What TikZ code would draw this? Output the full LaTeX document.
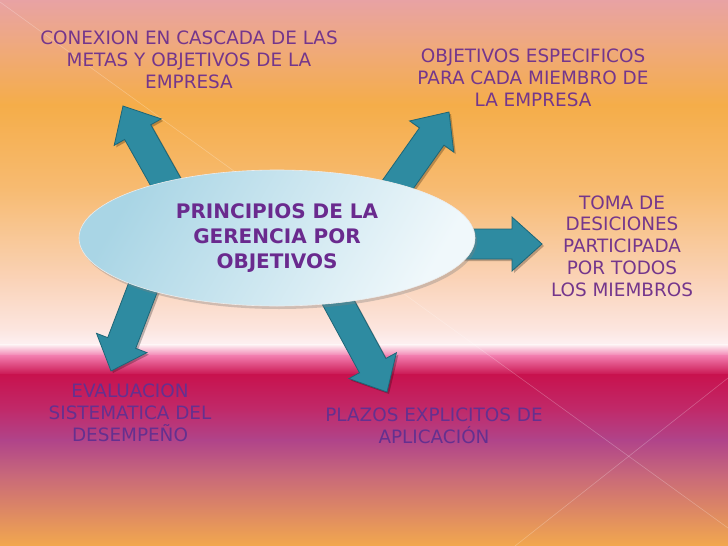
\documentclass[tikz,border=0pt]{standalone}
\usepackage{fontspec}
\setmainfont{DejaVu Sans}
\usepackage{tikz}
\usetikzlibrary{calc, positioning, shapes.geometric, shadows}
\definecolor{bgA}{HTML}{E8A2A4}
\definecolor{bgB}{HTML}{EFA97E}
\definecolor{bgC}{HTML}{F5AD49}
\definecolor{bgD}{HTML}{F7BB72}
\definecolor{bgE}{HTML}{FAD3B8}
\definecolor{bgF}{HTML}{FCE6E0}
\definecolor{bgG}{HTML}{FDF1F3}
\definecolor{bgH}{HTML}{F27CAE}
\definecolor{bgI}{HTML}{C8124E}
\definecolor{bgJ}{HTML}{C02A6A}
\definecolor{bgK}{HTML}{B0448A}
\definecolor{bgL}{HTML}{C8687A}
\definecolor{bgM}{HTML}{F2A84E}
\definecolor{arrowteal}{HTML}{2E8BA1}
\definecolor{arrowedge}{HTML}{1D6677}
\definecolor{ellblue}{HTML}{A9D5E5}
\definecolor{ellwhite}{HTML}{F0F8FB}
\definecolor{titlepurple}{HTML}{6A2A8E}
\definecolor{labelpurple}{HTML}{74368C}
\definecolor{lowpurple}{HTML}{65308F}
\newcommand{\arrowoutline}[2]{($(#1)!15pt!90:(#2)$) -- ($(ah)!15pt!90:(#2)$) -- ($(ah)!27pt!90:(#2)$) -- (#2) -- ($(ah)!27pt!-90:(#2)$) -- ($(ah)!15pt!-90:(#2)$) -- ($(#1)!15pt!-90:(#2)$) -- cycle}
\newcommand{\blockarrow}[2]{%
    \coordinate (ah) at ($(#2)!30pt!(#1)$);
    \fill[black,opacity=0.25,transform canvas={shift={(2pt,-2pt)}}] \arrowoutline{#1}{#2};
    \filldraw[arrowteal,draw=arrowedge,line width=0.8pt,line join=miter] \arrowoutline{#1}{#2};
}
\tikzset{
    label text/.style={text=labelpurple,align=center,font=\fontsize{18.4}{21.8}\selectfont},
    low text/.style={label text,text=lowpurple},
    core/.style={ellipse,minimum width=396pt,minimum height=136pt,inner sep=0pt,
        left color=ellblue,right color=ellwhite,shading angle=60,draw=white!85!gray,line width=0.6pt,
        drop shadow={opacity=0.35,shadow xshift=2pt,shadow yshift=-3pt},
        text=titlepurple,align=center,font=\fontsize{20}{25}\selectfont\bfseries}
}
\begin{document}
\begin{tikzpicture}[x=1pt,y=-1pt]
    \useasboundingbox (0,0) rectangle (728,546);
    \foreach \ya/\ca/\yb/\cb in {0/bgA/45/bgB, 45/bgB/105/bgC, 105/bgC/190/bgD, 190/bgD/280/bgE, 280/bgE/330/bgF, 330/bgF/345/bgG, 345/bgG/356/bgH, 356/bgH/375/bgI, 375/bgI/410/bgJ, 410/bgJ/440/bgK, 440/bgK/475/bgL, 475/bgL/546/bgM}
        \shade[top color=\ca,bottom color=\cb] (0,\ya-0.4) rectangle (728,\yb+0.4);
    \draw[white,opacity=0.25,line width=0.6pt] (0,2) -- (728,528);
    \draw[white,opacity=0.25,line width=0.6pt] (728,378) -- (515,546);

    \coordinate (center) at (277,238);
    \coordinate (s1) at (186,218);
    \coordinate (t1) at (123,106);
    \coordinate (s2) at (377,214);
    \coordinate (t2) at (449,112);
    \coordinate (s3) at (440,244);
    \coordinate (t3) at (542,244);
    \coordinate (s4) at (155,256);
    \coordinate (t4) at (111,371);
    \coordinate (s5) at (319,267);
    \coordinate (t5) at (387,392);
    \blockarrow{s1}{t1}
    \blockarrow{s2}{t2}
    \blockarrow{s3}{t3}
    \blockarrow{s4}{t4}
    \blockarrow{s5}{t5}

    \node[core] (principios) at (center) {PRINCIPIOS DE LA\\GERENCIA POR\\OBJETIVOS};

    \node[label text] (cascada) at (189,60) {CONEXION EN CASCADA DE LAS\\METAS Y OBJETIVOS DE LA\\EMPRESA};
    \node[label text] (especificos) at (533,78) {OBJETIVOS ESPECIFICOS\\PARA CADA MIEMBRO DE\\LA EMPRESA};
    \node[label text] (toma) at (622,246) {TOMA DE\\DESICIONES\\PARTICIPADA\\POR TODOS\\LOS MIEMBROS};
    \node[low text] (evaluacion) at (130,413) {EVALUACION\\SISTEMATICA DEL\\DESEMPEÑO};
    \node[low text] (plazos) at (434,426) {PLAZOS EXPLICITOS DE\\APLICACIÓN};
\end{tikzpicture}
\end{document}
